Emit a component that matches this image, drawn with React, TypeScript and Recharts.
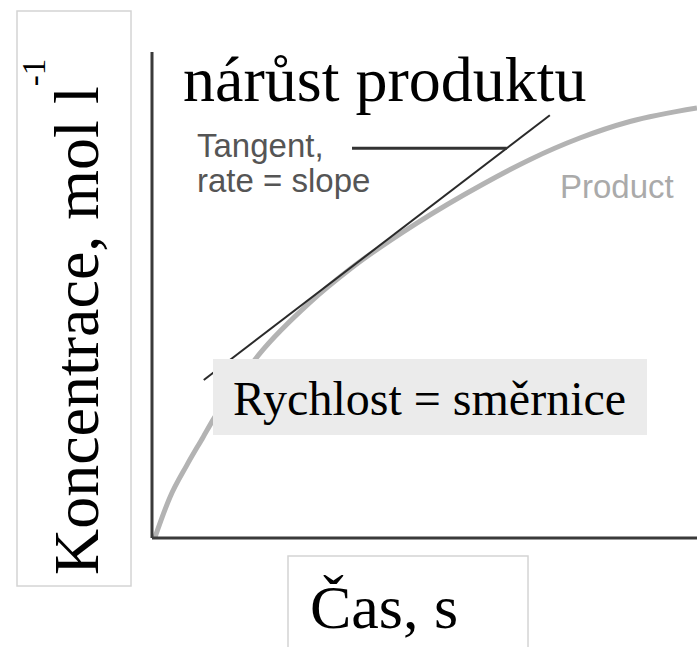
import { Line, LineChart, XAxis, YAxis } from "recharts";

// product concentration curve (time %, concentration %)
const productTime = [0.5, 3.3, 6.4, 9.4, 11.2, 19.8, 29.0, 36.3, 48.6, 60.7, 69.4, 78.5, 87.7, 100];
const productConc = [0, 8.4, 15.0, 20.8, 24.3, 38.0, 48.5, 55.3, 64.8, 72.8, 77.9, 82.3, 85.7, 88.5];

// tangent line end points
const tangentTime = [9.5, 73.0];
const tangentConc = [32.5, 87.0];

// leader line from the "Tangent" label to the tangent
const leaderTime = [36.7, 65.1];
const leaderConc = [80.2, 80.2];

const toRows = (xs: number[], ys: number[]) => xs.map((t, i) => ({ t, c: ys[i] }));

const product = toRows(productTime, productConc);
const tangent = toRows(tangentTime, tangentConc);
const leader = toRows(leaderTime, leaderConc);

const SERIF = '"Liberation Serif", "Times New Roman", serif';
const SANS = '"Liberation Sans", Arial, sans-serif';

export default function App() {
  return (
    <div style={{ position: "absolute", left: 0, top: 0, width: 697, height: 647, background: "#fff" }}>
      <LineChart
        width={697}
        height={647}
        data={product}
        margin={{ top: 52, right: 0, left: 151, bottom: 108 }}
      >
        <XAxis
          type="number"
          dataKey="t"
          domain={[0, 100]}
          height={1}
          tick={false}
          tickLine={false}
          axisLine={{ stroke: "#3a3a3a", strokeWidth: 3 }}
        />
        <YAxis
          type="number"
          domain={[0, 100]}
          width={1}
          tick={false}
          tickLine={false}
          axisLine={{ stroke: "#3a3a3a", strokeWidth: 3 }}
        />
        <Line
          dataKey="c"
          type="monotone"
          stroke="#b3b3b3"
          strokeWidth={5}
          dot={false}
          isAnimationActive={false}
        />
        <Line
          data={tangent}
          dataKey="c"
          type="linear"
          stroke="#2a2a2a"
          strokeWidth={2}
          dot={false}
          isAnimationActive={false}
        />
        <Line
          data={leader}
          dataKey="c"
          type="linear"
          stroke="#333"
          strokeWidth={3}
          dot={false}
          isAnimationActive={false}
        />
      </LineChart>

      <svg
        width={697}
        height={647}
        style={{ position: "absolute", left: 0, top: 0, pointerEvents: "none" }}
      >
        {/* y label */}
        <rect x={17} y={11} width={114} height={575} fill="#fff" stroke="#d4d4d4" strokeWidth={1.5} />
        <text
          transform="translate(98,575) rotate(-90)"
          fontFamily={SERIF}
          fontSize={64}
          fill="#000"
        >
          Koncentrace, mol l
          <tspan fontSize={33} dy={-53}>-1</tspan>
        </text>

        {/* title */}
        <text x={183} y={101} fontFamily={SERIF} fontSize={64} fill="#000">
          nárůst produktu
        </text>

        {/* tangent note */}
        <text x={197} y={157} fontFamily={SANS} fontSize={33} fill="#555">
          Tangent,
        </text>
        <text x={197} y={192} fontFamily={SANS} fontSize={33} fill="#555">
          rate = slope
        </text>

        <text x={560} y={198} fontFamily={SANS} fontSize={33} fill="#aaa">
          Product
        </text>

        {/* rate box */}
        <rect x={213} y={359} width={434} height={76} fill="#ebebeb" />
        <text x={233} y={415} fontFamily={SERIF} fontSize={48} fill="#000">
          Rychlost = směrnice
        </text>

        {/* x label */}
        <rect x={288} y={556} width={240} height={100} fill="#fff" stroke="#d4d4d4" strokeWidth={1.5} />
        <text x={310} y={628} fontFamily={SERIF} fontSize={62} fill="#000">
          Čas, s
        </text>
      </svg>
    </div>
  );
}
